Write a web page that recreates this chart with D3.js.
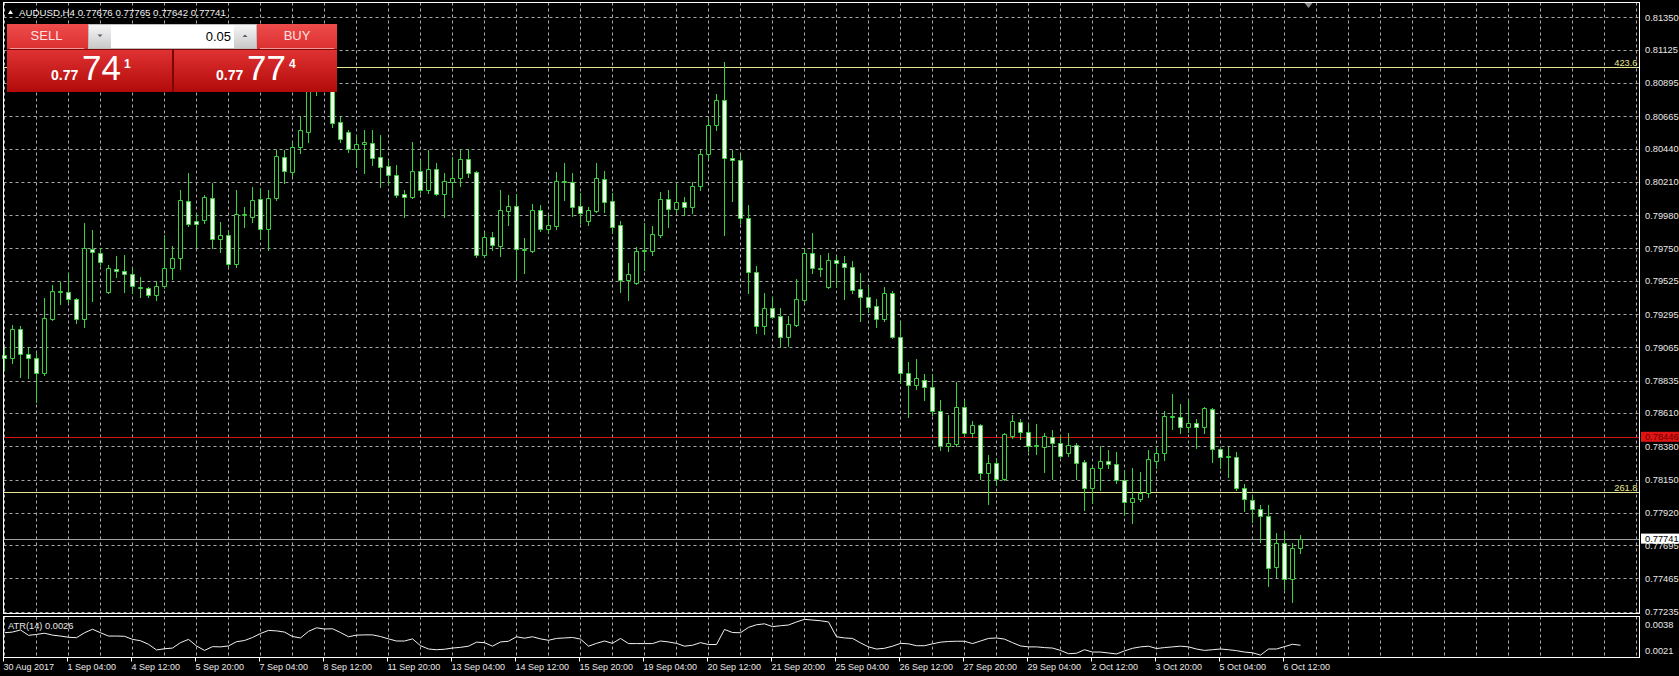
<!DOCTYPE html>
<html>
<head>
<meta charset="utf-8">
<script src="https://cdn.jsdelivr.net/npm/d3@7"></script>
<style>
  html, body { margin: 0; padding: 0; background: #000; overflow: hidden; }
  svg { display: block; }
  text { font-family: "Liberation Sans", Arial, sans-serif; }
</style>
</head>
<body>
<div id="chart"></div>
<script>
// AUDUSD H4, 30 Aug 20:00 .. 6 Oct 20:00 (163 bars)
var open = [0.79012,0.78992,0.79192,0.79019,0.78992,0.78888,0.79262,0.79448,0.79448,0.79400,
0.79262,0.79746,0.79719,0.79448,0.79608,0.79594,0.79573,0.79476,0.79476,0.79428,
0.79490,0.79615,0.79684,0.80079,0.79940,0.79947,0.80099,0.79815,0.79843,0.79642,
0.79982,0.79968,0.80092,0.79885,0.80099,0.80383,0.80279,0.80452,0.80556,0.80861,
0.80985,0.81080,0.80625,0.80556,0.80439,0.80473,0.80480,0.80383,0.80321,0.80259,
0.80127,0.80106,0.80286,0.80155,0.80300,0.80127,0.80210,0.80238,0.80369,0.80279,
0.79705,0.79829,0.79767,0.80009,0.80044,0.79739,0.79732,0.80016,0.79885,0.79905,
0.80210,0.80210,0.80044,0.79940,0.80009,0.80231,0.80079,0.79912,0.79532,0.79511,
0.79732,0.79732,0.79843,0.80092,0.80023,0.80072,0.80037,0.80182,0.80404,0.80605,
0.80778,0.80376,0.80362,0.79961,0.79587,0.79213,0.79338,0.79282,0.79137,0.79220,
0.79393,0.79719,0.79608,0.79483,0.79670,0.79649,0.79622,0.79469,0.79414,0.79352,
0.79262,0.79442,0.79137,0.78888,0.78805,0.78839,0.78791,0.78625,0.78382,0.78396,
0.78652,0.78472,0.78528,0.78195,0.78265,0.78154,0.78452,0.78548,0.78479,0.78382,
0.78375,0.78445,0.78403,0.78334,0.78389,0.78272,0.78092,0.78230,0.78279,0.78258,
0.78147,0.77995,0.78015,0.78057,0.78279,0.78334,0.78583,0.78583,0.78514,0.78542,
0.78514,0.78638,0.78362,0.78306,0.78306,0.78092,0.78008,0.77946,0.77898,0.77545,
0.77711,0.77462,0.77676];

var high = [0.79061,0.79220,0.79213,0.79068,0.79026,0.79407,0.79497,0.79518,0.79580,0.79407,
0.79926,0.79878,0.79753,0.79635,0.79698,0.79705,0.79615,0.79552,0.79483,0.79525,
0.79843,0.79767,0.80155,0.80272,0.79995,0.80120,0.80203,0.79933,0.79878,0.80155,
0.80037,0.80175,0.80168,0.80155,0.80432,0.80432,0.80487,0.80667,0.80916,0.81055,
0.81228,0.81120,0.80660,0.80570,0.80535,0.80570,0.80570,0.80535,0.80362,0.80328,
0.80155,0.80487,0.80362,0.80432,0.80342,0.80272,0.80383,0.80439,0.80439,0.80285,
0.79864,0.79864,0.80155,0.80120,0.80127,0.79822,0.80058,0.80051,0.79982,0.80279,
0.80342,0.80272,0.80134,0.80037,0.80342,0.80286,0.80134,0.79940,0.79649,0.79760,
0.79926,0.79905,0.80141,0.80155,0.80203,0.80106,0.80210,0.80432,0.80653,0.80820,
0.81041,0.80432,0.80400,0.80051,0.79628,0.79442,0.79414,0.79338,0.79282,0.79539,
0.79753,0.79857,0.79705,0.79719,0.79698,0.79698,0.79663,0.79580,0.79490,0.79400,
0.79483,0.79455,0.79241,0.78964,0.78985,0.78881,0.78881,0.78701,0.78597,0.78825,
0.78701,0.78555,0.78535,0.78320,0.78299,0.78472,0.78597,0.78569,0.78542,0.78535,
0.78472,0.78493,0.78458,0.78472,0.78403,0.78285,0.78237,0.78382,0.78355,0.78341,
0.78216,0.78230,0.78202,0.78355,0.78375,0.78625,0.78742,0.78673,0.78708,0.78569,
0.78652,0.78645,0.78375,0.78375,0.78341,0.78119,0.78043,0.77974,0.77974,0.77780,
0.77787,0.77711,0.77765];

var low = [0.78909,0.78957,0.78860,0.78853,0.78687,0.78874,0.79255,0.79365,0.79372,0.79234,
0.79206,0.79386,0.79635,0.79442,0.79552,0.79448,0.79442,0.79414,0.79414,0.79393,
0.79476,0.79539,0.79608,0.79905,0.79760,0.79926,0.79753,0.79725,0.79628,0.79622,
0.79898,0.79933,0.79815,0.79739,0.80085,0.80203,0.80252,0.80411,0.80487,0.80812,
0.80882,0.80591,0.80487,0.80418,0.80314,0.80272,0.80328,0.80175,0.80189,0.80106,
0.79968,0.80099,0.80134,0.80134,0.80120,0.79968,0.80106,0.80182,0.80245,0.79691,
0.79691,0.79739,0.79698,0.79912,0.79545,0.79580,0.79725,0.79871,0.79857,0.79885,
0.80085,0.79975,0.79926,0.79912,0.80002,0.80002,0.79857,0.79448,0.79393,0.79504,
0.79601,0.79705,0.79829,0.79898,0.80002,0.79982,0.79995,0.80155,0.80376,0.80570,
0.79843,0.80079,0.79926,0.79442,0.79165,0.79158,0.79268,0.79068,0.79075,0.79213,
0.79379,0.79580,0.79559,0.79476,0.79483,0.79400,0.79442,0.79248,0.79310,0.79206,
0.79248,0.79130,0.78819,0.78583,0.78777,0.78701,0.78597,0.78355,0.78348,0.78382,
0.78458,0.78445,0.78154,0.77981,0.78112,0.78147,0.78438,0.78431,0.78348,0.78327,
0.78202,0.78154,0.78306,0.78313,0.78154,0.77939,0.77988,0.78078,0.78230,0.78126,
0.77905,0.77849,0.78002,0.78029,0.78230,0.78285,0.78500,0.78472,0.78479,0.78368,
0.78472,0.78272,0.78230,0.78168,0.78078,0.77932,0.77856,0.77718,0.77413,0.77475,
0.77392,0.77302,0.77642];

var close = [0.78992,0.79192,0.79019,0.78992,0.78888,0.79268,0.79455,0.79455,0.79400,0.79262,
0.79753,0.79725,0.79656,0.79615,0.79594,0.79573,0.79490,0.79483,0.79428,0.79490,
0.79615,0.79684,0.80085,0.79919,0.79919,0.80106,0.79815,0.79843,0.79642,0.79988,
0.79988,0.80085,0.79885,0.80099,0.80390,0.80286,0.80452,0.80570,0.80861,0.80985,
0.81089,0.80619,0.80508,0.80439,0.80473,0.80487,0.80376,0.80314,0.80259,0.80120,
0.80106,0.80286,0.80155,0.80300,0.80127,0.80217,0.80238,0.80369,0.80272,0.79705,
0.79829,0.79774,0.80016,0.80044,0.79746,0.79746,0.80016,0.79885,0.79912,0.80217,
0.80217,0.80037,0.79995,0.80016,0.80238,0.80072,0.79898,0.79532,0.79573,0.79732,
0.79739,0.79850,0.80092,0.80023,0.80072,0.80037,0.80182,0.80404,0.80605,0.80778,
0.80376,0.80362,0.79961,0.79587,0.79213,0.79338,0.79275,0.79137,0.79227,0.79400,
0.79719,0.79615,0.79615,0.79670,0.79649,0.79622,0.79462,0.79414,0.79345,0.79262,
0.79442,0.79137,0.78888,0.78805,0.78853,0.78791,0.78625,0.78382,0.78403,0.78652,
0.78472,0.78528,0.78195,0.78265,0.78154,0.78465,0.78555,0.78479,0.78382,0.78389,
0.78452,0.78403,0.78313,0.78389,0.78265,0.78092,0.78230,0.78279,0.78258,0.78147,
0.77995,0.78022,0.78057,0.78292,0.78334,0.78590,0.78590,0.78514,0.78542,0.78514,
0.78645,0.78362,0.78306,0.78313,0.78092,0.78015,0.77946,0.77898,0.77538,0.77711,
0.77462,0.77676,0.77741];

// ATR(14)
var atr = [0.00313,0.00316,0.00325,0.00302,0.00306,0.00311,0.00303,0.00299,0.00294,0.00292,
0.00313,0.00328,0.00313,0.00299,0.00299,0.00298,0.00285,0.00279,0.00264,0.00240,
0.00245,0.00248,0.00271,0.00285,0.00257,0.00238,0.00254,0.00253,0.00257,0.00275,
0.00280,0.00293,0.00310,0.00323,0.00321,0.00316,0.00297,0.00291,0.00319,0.00334,
0.00329,0.00330,0.00314,0.00296,0.00303,0.00304,0.00304,0.00297,0.00287,0.00278,
0.00278,0.00287,0.00258,0.00244,0.00241,0.00243,0.00248,0.00251,0.00256,0.00273,
0.00271,0.00256,0.00274,0.00277,0.00296,0.00290,0.00296,0.00287,0.00281,0.00289,
0.00291,0.00293,0.00286,0.00256,0.00268,0.00278,0.00268,0.00289,0.00267,0.00267,
0.00267,0.00267,0.00278,0.00274,0.00268,0.00256,0.00260,0.00271,0.00263,0.00263,
0.00327,0.00314,0.00313,0.00336,0.00347,0.00351,0.00339,0.00343,0.00346,0.00359,
0.00370,0.00367,0.00364,0.00359,0.00296,0.00291,0.00289,0.00270,0.00253,0.00244,
0.00247,0.00256,0.00268,0.00266,0.00258,0.00258,0.00266,0.00273,0.00276,0.00277,
0.00277,0.00267,0.00278,0.00289,0.00291,0.00286,0.00271,0.00257,0.00253,0.00253,
0.00250,0.00248,0.00238,0.00224,0.00226,0.00241,0.00231,0.00231,0.00227,0.00223,
0.00236,0.00247,0.00253,0.00256,0.00246,0.00250,0.00253,0.00256,0.00253,0.00244,
0.00238,0.00241,0.00244,0.00241,0.00237,0.00231,0.00228,0.00218,0.00244,0.00244,
0.00254,0.00264,0.00260];

var priceTicks = [0.81350,0.81125,0.80895,0.80665,0.80440,0.80210,0.79980,0.79750,0.79525,0.79295,
  0.79065,0.78835,0.78610,0.78380,0.78150,0.77920,0.77695,0.77465,0.77235];
var timeLabels = ["30 Aug 2017","1 Sep 04:00","4 Sep 12:00","5 Sep 20:00","7 Sep 04:00","8 Sep 12:00",
  "11 Sep 20:00","13 Sep 04:00","14 Sep 12:00","15 Sep 20:00","19 Sep 04:00","20 Sep 12:00",
  "21 Sep 20:00","25 Sep 04:00","26 Sep 12:00","27 Sep 20:00","29 Sep 04:00","2 Oct 12:00",
  "3 Oct 20:00","5 Oct 04:00","6 Oct 12:00"];
var timeLabelBars = [0,8,16,24,32,40,48,56,64,72,80,88,96,104,112,120,128,136,144,152,160];

var fiboLevels = [0.81004, 0.78066];
var fiboNames = ["423.6", "261.8"];
var redLevel = 0.78446;
var lastPrice = 0.77741;
var atrTicks = [0.0038, 0.0021];
var atrName = "ATR(14) 0.0026";
var header = "AUDUSD,H4  0.77676 0.77765 0.77642 0.77741";
var lot = "0.05";
var sellQuote = ["0.77", "74", "1"];
var buyQuote = ["0.77", "77", "4"];

var width = 1679, height = 676;
var frame = {left: 3.5, right: 1639.5, top: 2.5, bottom: 613.5, atrTop: 616.5, atrBottom: 657.5};
var green = "#3cd23c", grid = "#a8a8a8";

var svg = d3.select("#chart").append("svg")
  .attr("width", width).attr("height", height);

svg.append("rect").attr("width", width).attr("height", height).attr("fill", "#000");

var x = d3.scaleLinear().domain([0, 162]).range([4.5, 1300.5]);
var y = d3.scaleLinear().domain([0.77235, 0.81350]).range([611.7, 17.3]);
var ya = d3.scaleLinear().domain([0.0021, 0.0038]).range([657, 617]);
function py(v) { return Math.round(y(v)) + 0.5; }

// vertical grid, every 4 bars, also in the future area
var gridBars = d3.range(0, 210, 4).filter(function(i) { return x(i) < frame.right - 1; });
svg.append("g").selectAll("line").data(gridBars).join("line")
  .attr("x1", function(d) { return x(d); }).attr("x2", function(d) { return x(d); })
  .attr("y1", frame.top).attr("y2", frame.bottom)
  .attr("stroke", grid).attr("stroke-dasharray", "3,3");
svg.append("g").selectAll("line").data(gridBars).join("line")
  .attr("x1", function(d) { return x(d); }).attr("x2", function(d) { return x(d); })
  .attr("y1", frame.atrTop).attr("y2", frame.atrBottom)
  .attr("stroke", grid).attr("stroke-dasharray", "3,3");

// horizontal grid
svg.append("g").selectAll("line").data(priceTicks).join("line")
  .attr("x1", frame.left).attr("x2", frame.right)
  .attr("y1", py).attr("y2", py)
  .attr("stroke", grid).attr("stroke-dasharray", "3,3");

// level lines
svg.append("g").selectAll("line").data(fiboLevels).join("line")
  .attr("x1", frame.left).attr("x2", frame.right)
  .attr("y1", py).attr("y2", py)
  .attr("stroke", "#e8e88e");
svg.append("line").attr("x1", frame.left).attr("x2", frame.right)
  .attr("y1", py(redLevel)).attr("y2", py(redLevel)).attr("stroke", "#d41414");
svg.append("line").attr("x1", frame.left).attr("x2", frame.right)
  .attr("y1", py(lastPrice)).attr("y2", py(lastPrice)).attr("stroke", "#a0a0a0");

svg.append("g").selectAll("text").data(fiboLevels).join("text")
  .attr("x", frame.right - 2).attr("y", function(d) { return py(d) - 2; })
  .attr("text-anchor", "end").attr("font-size", "9.3px").attr("fill", "#e8e88e")
  .text(function(d, i) { return fiboNames[i]; });

// candles
var bars = d3.range(open.length).map(function(i) {
  return {i: i, o: open[i], h: high[i], l: low[i], c: close[i]};
});
var cg = svg.append("g");
cg.selectAll("line").data(bars).join("line")
  .attr("x1", function(d) { return x(d.i); }).attr("x2", function(d) { return x(d.i); })
  .attr("y1", function(d) { return py(d.h) - 0.5; }).attr("y2", function(d) { return py(d.l) + 0.5; })
  .attr("stroke", green);
cg.selectAll("path").data(bars).join("path")
  .attr("d", function(d) {
    var cx = x(d.i), top = py(Math.max(d.o, d.c)), bot = py(Math.min(d.o, d.c));
    return "M" + (cx - 2) + "," + top + "H" + (cx + 2) + "V" + bot + "H" + (cx - 2) + "Z";
  })
  .attr("fill", function(d) { return d.c > d.o ? "#000" : "#ecffec"; })
  .attr("stroke", green);

// frames
svg.append("rect").attr("x", frame.left).attr("y", frame.top)
  .attr("width", frame.right - frame.left).attr("height", frame.bottom - frame.top)
  .attr("fill", "none").attr("stroke", "#fff");
svg.append("rect").attr("x", frame.left).attr("y", frame.atrTop)
  .attr("width", frame.right - frame.left).attr("height", frame.atrBottom - frame.atrTop)
  .attr("fill", "none").attr("stroke", "#fff");

// shift marker
var sx = x(163);
svg.append("path").attr("d", "M" + (sx - 4) + ",3L" + (sx + 4) + ",3L" + sx + ",8Z").attr("fill", "#8a8a8a");

// price axis
svg.append("g").selectAll("text").data(priceTicks).join("text")
  .attr("x", 1645).attr("y", function(d) { return y(d) + 3.4; })
  .attr("font-size", "9.3px").attr("fill", "#e8e8e8")
  .text(function(d) { return d.toFixed(5); });

svg.append("rect").attr("x", 1641).attr("y", y(redLevel) - 5).attr("width", 38).attr("height", 10).attr("fill", "#e01414");
svg.append("text").attr("x", 1645).attr("y", y(redLevel) + 3.4).attr("font-size", "9.3px").attr("fill", "#6a0000").text(redLevel.toFixed(5));
svg.append("rect").attr("x", 1641).attr("y", y(lastPrice) - 5).attr("width", 38).attr("height", 10).attr("fill", "#fff");
svg.append("text").attr("x", 1645).attr("y", y(lastPrice) + 3.4).attr("font-size", "9.3px").attr("fill", "#000").text(lastPrice.toFixed(5));

// ATR window
var atrLine = d3.line().x(function(d, i) { return x(i); }).y(function(d) { return ya(d); });
svg.append("path").datum(atr).attr("d", atrLine).attr("fill", "none").attr("stroke", "#f2f2f2");
svg.append("text").attr("x", 8).attr("y", 629).attr("font-size", "9.3px").attr("fill", "#e8e8e8").text(atrName);
svg.append("text").attr("x", 1645).attr("y", ya(atrTicks[0]) + 10.5).attr("font-size", "9.3px").attr("fill", "#e8e8e8").text(atrTicks[0].toFixed(4));
svg.append("text").attr("x", 1645).attr("y", ya(atrTicks[1]) - 3).attr("font-size", "9.3px").attr("fill", "#e8e8e8").text(atrTicks[1].toFixed(4));

// time axis
svg.append("g").selectAll("line").data(timeLabelBars).join("line")
  .attr("x1", function(d) { return Math.max(frame.left, x(d) - 1); })
  .attr("x2", function(d) { return Math.max(frame.left, x(d) - 1); })
  .attr("y1", frame.atrBottom).attr("y2", frame.atrBottom + 4).attr("stroke", "#fff");
svg.append("g").selectAll("text").data(timeLabelBars).join("text")
  .attr("x", function(d) { return Math.max(frame.left, x(d) - 1); })
  .attr("y", 670).attr("font-size", "9px").attr("fill", "#e8e8e8")
  .text(function(d, i) { return timeLabels[i]; });

// header
svg.append("path").attr("d", "M8,14L13,14L10.5,10Z").attr("fill", "#fff");
svg.append("text").attr("x", 19).attr("y", 15.5).attr("font-size", "9.7px").attr("fill", "#f0f0f0").text(header);

// one-click trading panel
var defs = svg.append("defs");
function grad(id, c1, c2) {
  var g = defs.append("linearGradient").attr("id", id).attr("x1", 0).attr("x2", 0).attr("y1", 0).attr("y2", 1);
  g.append("stop").attr("offset", "0%").attr("stop-color", c1);
  g.append("stop").attr("offset", "100%").attr("stop-color", c2);
}
grad("btn", "#ee4c4c", "#dc3030");
grad("quote", "#e03232", "#b20a0a");
grad("spin", "#f6f6f6", "#c9c9c9");

var p = svg.append("g");
p.append("rect").attr("x", 7).attr("y", 24).attr("width", 330).attr("height", 68).attr("fill", "#7a0606");
p.append("rect").attr("x", 7).attr("y", 24).attr("width", 81).attr("height", 25).attr("fill", "url(#btn)");
p.append("rect").attr("x", 257).attr("y", 24).attr("width", 80).attr("height", 25).attr("fill", "url(#btn)");
p.append("rect").attr("x", 88).attr("y", 24).attr("width", 169).attr("height", 25).attr("fill", "#bdbdbd");
p.append("rect").attr("x", 111).attr("y", 25).attr("width", 123).attr("height", 23).attr("fill", "#fff");
p.append("rect").attr("x", 89).attr("y", 25).attr("width", 22).attr("height", 23).attr("fill", "url(#spin)");
p.append("rect").attr("x", 234).attr("y", 25).attr("width", 22).attr("height", 23).attr("fill", "url(#spin)");
p.append("path").attr("d", "M97.5,34.5L102.5,34.5L100,37Z").attr("fill", "#5a5a70");
p.append("path").attr("d", "M242.5,37L247.5,37L245,34.5Z").attr("fill", "#5a5a70");
p.append("line").attr("x1", 10).attr("x2", 84).attr("y1", 48.5).attr("y2", 48.5).attr("stroke", "#f59a9a");
p.append("line").attr("x1", 260).attr("x2", 334).attr("y1", 48.5).attr("y2", 48.5).attr("stroke", "#f59a9a");
p.append("rect").attr("x", 7).attr("y", 50).attr("width", 165).attr("height", 42).attr("fill", "url(#quote)");
p.append("rect").attr("x", 174).attr("y", 50).attr("width", 163).attr("height", 42).attr("fill", "url(#quote)");

p.append("text").attr("x", 46.5).attr("y", 40).attr("text-anchor", "middle").attr("font-size", "13px").attr("fill", "#fbe2e2").text("SELL");
p.append("text").attr("x", 297).attr("y", 40).attr("text-anchor", "middle").attr("font-size", "13px").attr("fill", "#fbe2e2").text("BUY");
p.append("text").attr("x", 231).attr("y", 41).attr("text-anchor", "end").attr("font-size", "13px").attr("fill", "#000").text(lot);

function quote(q, x0) {
  p.append("text").attr("x", x0).attr("y", 79.5).attr("font-size", "14px").attr("font-weight", "bold").attr("fill", "#fff").text(q[0]);
  p.append("text").attr("x", x0 + 31).attr("y", 80).attr("font-size", "35px").attr("fill", "#fff").text(q[1]);
  p.append("text").attr("x", x0 + 73).attr("y", 68).attr("font-size", "12px").attr("font-weight", "bold").attr("fill", "#fff").text(q[2]);
}
quote(sellQuote, 51);
quote(buyQuote, 216);
</script>
</body>
</html>
